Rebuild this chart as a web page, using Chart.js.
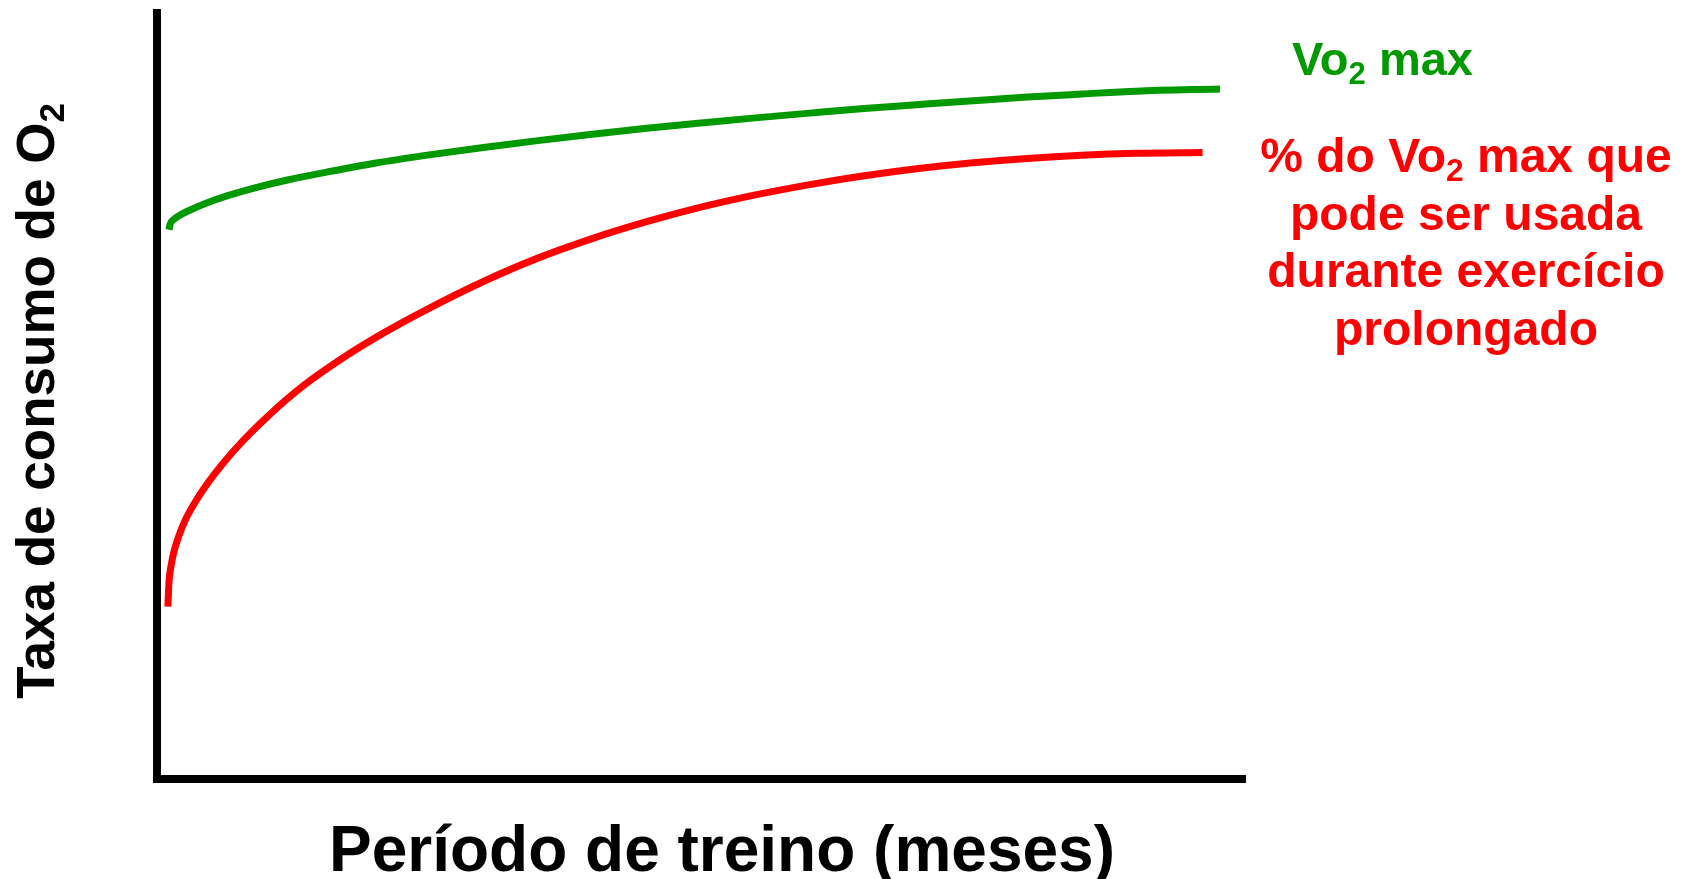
<!DOCTYPE html>
<html lang="pt">
<head>
<meta charset="utf-8">
<title>Taxa de consumo de O₂ e período de treino</title>
<script src="https://cdn.jsdelivr.net/npm/chart.js@4/dist/chart.umd.min.js"></script>
<style>
  html, body { margin: 0; padding: 0; background: #ffffff; }
  #grafico { display: block; }
</style>
</head>
<body>
<canvas id="grafico" width="1690" height="879"></canvas>
<script>
// Período de treino (escala relativa de 0 a 100) e taxa de consumo de O2 (unidades relativas)
const mesesVo2Max = [1.1, 1.2, 1.5, 2.1, 3.0, 4.5, 6.5, 9.0, 12.0, 16.0, 20.0, 25.0, 30.0, 35.0, 40.0, 45.0, 50.0, 55.0, 60.0, 65.0, 70.0, 75.0, 80.0, 85.0, 90.0, 97.7];
const taxaVo2Max  = [71.7, 72.4, 73.0, 73.6, 74.25, 75.17, 76.16, 77.18, 78.2, 79.34, 80.39, 81.48, 82.45, 83.34, 84.17, 84.95, 85.65, 86.31, 86.93, 87.53, 88.05, 88.55, 89.02, 89.42, 89.8, 90.08];

const mesesFracao = [1.0, 1.1, 1.3, 1.6, 2.0, 2.6, 3.4, 4.5, 6.0, 8.0, 10.5, 13.5, 17.0, 21.0, 25.0, 30.0, 35.0, 40.0, 45.0, 50.0, 55.0, 60.0, 65.0, 70.0, 75.0, 80.0, 85.0, 90.0, 96.1];
const taxaFracao  = [22.5, 25.7, 27.9, 29.9, 31.7, 33.8, 35.9, 38.3, 41.1, 44.3, 47.77, 51.39, 54.9, 58.37, 61.45, 64.95, 68.0, 70.55, 72.75, 74.65, 76.25, 77.6, 78.75, 79.7, 80.45, 81.02, 81.43, 81.68, 81.8];

const tituloX = 'Período de treino (meses)';
const tituloY = 'Taxa de consumo de O₂';
const rotuloVo2Max = ['Vo₂ max'];
const rotuloFracao = ['% do Vo₂ max que', 'pode ser usada', 'durante exercício', 'prolongado'];

const verde = '#009900';
const vermelho = '#ff0000';
const fonte = '"Liberation Sans", Arial, Helvetica, sans-serif';

function pontos(xs, ys) {
  return xs.map((x, i) => ({ x: x, y: ys[i] }));
}

// Texto em negrito em que "₂" é desenhado como índice (menor e rebaixado)
function partes(texto) {
  return texto.split(/(₂)/).filter(p => p.length);
}
function fonteDe(tamanho) {
  return 'bold ' + tamanho + 'px ' + fonte;
}
function larguraTexto(ctx, texto, tamanho) {
  let w = 0;
  for (const p of partes(texto)) {
    if (p === '₂') { ctx.font = fonteDe(tamanho * 0.66); w += ctx.measureText('2').width; }
    else { ctx.font = fonteDe(tamanho); w += ctx.measureText(p).width; }
  }
  return w;
}
function escreverTexto(ctx, texto, x, y, tamanho, alinhamento) {
  const w = larguraTexto(ctx, texto, tamanho);
  let cx = alinhamento === 'center' ? x - w / 2 : x;
  ctx.textAlign = 'left';
  ctx.textBaseline = 'alphabetic';
  for (const p of partes(texto)) {
    if (p === '₂') {
      ctx.font = fonteDe(tamanho * 0.66);
      ctx.fillText('2', cx, y + tamanho * 0.19);
      cx += ctx.measureText('2').width;
    } else {
      ctx.font = fonteDe(tamanho);
      ctx.fillText(p, cx, y);
      cx += ctx.measureText(p).width;
    }
  }
}

const rotulos = {
  id: 'rotulos',
  afterDraw(chart) {
    const ctx = chart.ctx;
    ctx.save();

    ctx.fillStyle = verde;
    escreverTexto(ctx, rotuloVo2Max[0], 1292, 75, 47, 'left');

    ctx.fillStyle = vermelho;
    rotuloFracao.forEach((linha, i) => {
      escreverTexto(ctx, linha, 1466, 172 + i * 57.5, 48, 'center');
    });

    ctx.fillStyle = '#000000';
    escreverTexto(ctx, tituloX, 722, 871, 64, 'center');

    ctx.save();
    ctx.translate(54, 401);
    ctx.rotate(-Math.PI / 2);
    escreverTexto(ctx, tituloY, 0, 0, 53, 'center');
    ctx.restore();

    ctx.restore();
  }
};

const eixo = (min, max) => ({
  type: 'linear',
  min: min,
  max: max,
  grid: { display: false, drawTicks: false },
  ticks: { display: false },
  title: { display: false },
  border: { display: true, color: '#000000', width: 8 }
});

new Chart(document.getElementById('grafico'), {
  type: 'line',
  data: {
    datasets: [
      {
        label: rotuloVo2Max[0],
        data: pontos(mesesVo2Max, taxaVo2Max),
        borderColor: verde,
        borderWidth: 7,
        borderCapStyle: 'butt',
        borderJoinStyle: 'round',
        pointRadius: 0,
        fill: false,
        cubicInterpolationMode: 'monotone'
      },
      {
        label: rotuloFracao.join(' '),
        data: pontos(mesesFracao, taxaFracao),
        borderColor: vermelho,
        borderWidth: 7,
        borderCapStyle: 'butt',
        borderJoinStyle: 'round',
        pointRadius: 0,
        fill: false,
        cubicInterpolationMode: 'monotone'
      }
    ]
  },
  options: {
    responsive: false,
    animation: false,
    devicePixelRatio: 1,
    layout: { padding: { left: 157, top: 13, right: 445, bottom: 100 } },
    plugins: {
      legend: { display: false },
      tooltip: { enabled: false },
      title: { display: false }
    },
    scales: {
      x: eixo(0, 100),
      y: eixo(0, 100)
    }
  },
  plugins: [rotulos]
});
</script>
</body>
</html>
